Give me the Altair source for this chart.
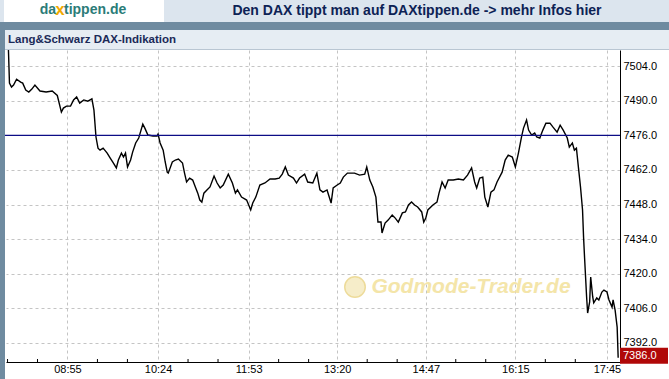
import altair as alt
import pandas as pd

# ---- data ----
times = ["07:57","07:58","08:00","08:02","08:05","08:09","08:11","08:14","08:17","08:20",
         "08:23","08:28","08:34","08:40","08:45","08:49","08:51","08:54","08:58","09:01",
         "09:04","09:07","09:11","09:15","09:19","09:21","09:23","09:25","09:27","09:30",
         "09:34","09:37","09:40","09:43","09:45","09:48","09:50","09:52","09:54","09:57",
         "09:59","10:02","10:05","10:09","10:11","10:14","10:19","10:23","10:24","10:26",
         "10:29","10:31","10:33","10:34","10:38","10:41","10:44","10:48","10:50","10:52",
         "10:55","10:58","11:01","11:03","11:05","11:07","11:09","11:12","11:15","11:19",
         "11:22","11:25","11:28","11:33","11:37","11:40","11:42","11:46","11:51","11:55",
         "11:57","12:00","12:04","12:09","12:14","12:19","12:23","12:26","12:29","12:32",
         "12:37","12:40","12:43","12:48","12:51","12:56","13:00","13:03","13:06","13:10",
         "13:14","13:16","13:20","13:23","13:26","13:30","13:33","13:37","13:42","13:47",
         "13:49","13:52","13:55","13:58","14:00","14:03","14:04","14:07","14:10","14:14",
         "14:17","14:20","14:24","14:27","14:30","14:33","14:36","14:39","14:43","14:45",
         "14:47","14:49","14:54","14:58","15:00","15:03","15:06","15:09","15:14","15:19",
         "15:24","15:28","15:32","15:35","15:37","15:40","15:43","15:45","15:48","15:51",
         "15:54","15:57","16:02","16:05","16:08","16:12","16:15","16:18","16:21","16:23",
         "16:26","16:28","16:31","16:34","16:36","16:39","16:42","16:45","16:49","16:52",
         "16:56","16:59","17:02","17:06","17:08","17:11","17:13","17:15","17:17","17:19",
         "17:21","17:22","17:23","17:25","17:26","17:28","17:29","17:31","17:32","17:35",
         "17:37","17:40","17:42","17:45","17:47","17:50","17:51","17:53","17:55","17:56"]
values = [7510.5,7497.1,7495.5,7496.3,7498.7,7497.5,7497.1,7494.3,7493.5,7494.7,
          7496.3,7493.9,7493.5,7493.9,7492.1,7485.4,7487.0,7487.8,7487.8,7490.3,
          7491.5,7489.0,7490.3,7489.8,7490.7,7486.2,7475.3,7470.8,7470.0,7470.8,
          7468.8,7466.8,7464.8,7462.8,7466.0,7468.8,7467.2,7468.8,7463.2,7466.0,
          7469.2,7472.9,7474.9,7480.5,7478.9,7476.1,7475.7,7475.7,7476.5,7472.9,
          7470.0,7465.2,7461.1,7460.7,7465.2,7466.0,7466.4,7464.8,7460.7,7457.1,
          7458.7,7457.9,7454.7,7452.6,7449.8,7449.0,7452.6,7453.9,7455.1,7459.5,
          7456.7,7454.7,7455.9,7460.3,7456.7,7452.6,7453.9,7451.0,7449.8,7445.8,
          7448.6,7451.0,7455.9,7456.7,7458.3,7458.3,7458.7,7460.3,7463.2,7459.9,
          7458.7,7456.7,7458.7,7460.3,7457.1,7456.7,7460.7,7453.9,7453.0,7453.9,
          7448.6,7454.7,7455.9,7456.7,7459.1,7460.7,7460.7,7460.7,7459.9,7460.3,
          7463.2,7457.9,7455.1,7451.0,7440.9,7440.9,7436.5,7440.5,7441.7,7443.7,
          7442.5,7440.9,7444.6,7445.0,7447.8,7449.0,7447.8,7447.0,7445.0,7440.9,
          7442.5,7445.8,7447.8,7449.0,7452.6,7457.1,7454.7,7457.9,7457.9,7458.3,
          7457.9,7459.9,7462.8,7457.1,7454.7,7458.7,7459.1,7451.0,7447.0,7453.0,
          7453.9,7457.1,7461.1,7466.0,7468.0,7467.2,7463.2,7468.8,7475.3,7478.9,
          7482.2,7478.1,7476.1,7476.9,7475.3,7474.9,7478.1,7480.9,7480.9,7479.3,
          7477.3,7480.1,7478.1,7474.9,7471.2,7472.9,7470.0,7470.8,7462.8,7455.1,
          7445.8,7434.8,7426.5,7410.6,7404.1,7408.6,7418.7,7410.6,7408.2,7410.2,
          7409.4,7412.6,7413.4,7412.6,7409.4,7406.5,7409.4,7405.3,7398.4,7386.0]

x_tick_labels = ["08:55", "10:24", "11:53", "13:20", "14:47", "16:15", "17:45"]
y_ticks = [7392, 7406, 7420, 7434, 7448, 7462, 7476, 7490, 7504]
reference_level = [7476]
last_value = [7386.0]

title_banner = "Den DAX tippt man auf DAXtippen.de -> mehr Infos hier"
header_text = "Lang&Schwarz DAX-Indikation"
watermark = "Godmode-Trader.de"


def to_min(t):
    h, m = t.split(":")
    return int(h) * 60 + int(m)


df = pd.DataFrame({"t": [to_min(t) for t in times], "v": values})
tick_mins = [to_min(t) for t in x_tick_labels]
label_map = {str(to_min(t)): t for t in x_tick_labels}
label_expr = "{" + ",".join(f"'{k}':'{v}'" for k, v in label_map.items()) + "}[datum.value + '']"

# minor ticks: thirds between the major ticks
step = (tick_mins[-1] - tick_mins[0]) / (len(tick_mins) - 1)
minor = [tick_mins[0] - 2 * step / 3, tick_mins[0] - step / 3]
for a in tick_mins[:-1]:
    minor += [a + step / 3, a + 2 * step / 3]
minor_df = pd.DataFrame({"m": minor})

W, H = 614, 312
xs = alt.Scale(domain=[474.6, 1077.8], nice=False, zero=False)
ys = alt.Scale(domain=[7384.3, 7510.5], nice=False, zero=False)

one = pd.DataFrame({"a": [0]})
base1 = alt.Chart(one)
FONT = "Liberation Sans"

def rect(x0, x1, y0, y1, color):
    return base1.mark_rect(color=color).encode(
        x=alt.value(x0), x2=alt.value(x1), y=alt.value(y0), y2=alt.value(y1))

# decorations (banner / header) around the plot, plot origin at (6, 50)
banner_bg = rect(-6, 663, -50, -28, "#dce5ee")
logo_bg = rect(-2, 158, -50, -28, "#ffffff")
dark_strip = rect(-6, 663, -28, -20, "#6f8ba0")
header_bg = rect(-6, 663, -20, -1, "#e6edf3")
header_line = rect(-6, 663, -1, 0, "#b9c6d2")
left_strip = rect(-6, -1, -28, 329, "#6f8ba0")

banner_txt = base1.mark_text(font=FONT, fontWeight="bold", fontSize=14,
                             color="#0d2255", align="center", baseline="middle").encode(
    x=alt.value(411), y=alt.value(-39), text=alt.value(title_banner))
logo_da = base1.mark_text(font=FONT, fontWeight="bold", fontSize=14,
                          color="#2b7c78", align="right", baseline="middle").encode(
    x=alt.value(50), y=alt.value(-40), text=alt.value("da"))
logo_x = base1.mark_text(font=FONT, fontWeight="bold", fontSize=17,
                         color="#f2a900", align="center", baseline="middle").encode(
    x=alt.value(54), y=alt.value(-40), text=alt.value("x"))
logo_rest = base1.mark_text(font=FONT, fontWeight="bold", fontSize=14,
                            color="#2b7c78", align="left", baseline="middle").encode(
    x=alt.value(58), y=alt.value(-40), text=alt.value("tippen.de"))
header_txt = base1.mark_text(font=FONT, fontWeight="bold", fontSize=11.5,
                             color="#1b2a58", align="left", baseline="middle").encode(
    x=alt.value(2), y=alt.value(-10), text=alt.value(header_text))

wm_circle = base1.mark_point(filled=True, shape="circle", size=420, color="#f6ecc4",
                             stroke="#ecd890", strokeWidth=1.5, opacity=0.9).encode(
    x=alt.value(349), y=alt.value(237))
wm_text = base1.mark_text(font=FONT, fontWeight="bold", fontStyle="italic",
                          fontSize=21, color="#f3e3a0", opacity=0.9, align="center",
                          baseline="middle").encode(
    x=alt.value(465), y=alt.value(237), text=alt.value(watermark))

axis_x = alt.Axis(values=tick_mins, labelExpr=label_expr, grid=True, gridDash=[3, 3],
                  gridColor="#c4c4c4", ticks=False, domainColor="#000000", domainWidth=1,
                  labelFont=FONT, labelFontSize=11, labelColor="#000000",
                  labelPadding=1, title=None, labelFlush=False, labelOverlap=False)
axis_y = alt.Axis(values=y_ticks, format=".1f", orient="right", grid=True, gridDash=[3, 3],
                  gridColor="#c4c4c4", ticks=False, domainColor="#000000", domainWidth=1,
                  labelFont=FONT, labelFontSize=11, labelColor="#000000",
                  labelPadding=3, title=None, labelFlush=False, labelOverlap=False,
                  labelBound=False)

line = alt.Chart(df).mark_line(color="#000000", strokeWidth=1.4, clip=True,
                               interpolate="linear").encode(
    x=alt.X("t:Q", scale=xs, axis=axis_x),
    y=alt.Y("v:Q", scale=ys, axis=axis_y))

minor_ticks = alt.Chart(minor_df).mark_rule(color="#000000", strokeWidth=1).encode(
    x=alt.X("m:Q", scale=xs, axis=axis_x), y=alt.value(H - 3), y2=alt.value(H))

ref_df = pd.DataFrame({"r": reference_level})
ref = alt.Chart(ref_df).mark_rule(color="#0c0c86", strokeWidth=1.2).encode(
    y=alt.Y("r:Q", scale=ys, axis=axis_y), x=alt.value(-1), x2=alt.value(W))

last_df = pd.DataFrame({"v": last_value, "label": [f"{v:.1f}" for v in last_value]})
last_box = alt.Chart(last_df).mark_rect(color="#b00808", yOffset=-10, y2Offset=6).encode(
    y=alt.Y("v:Q", scale=ys, axis=axis_y), y2="v:Q", x=alt.value(W), x2=alt.value(W + 48))
last_txt = alt.Chart(last_df).mark_text(font=FONT, fontSize=11, color="#ffffff",
                                        align="left", baseline="middle", dy=-2).encode(
    y=alt.Y("v:Q", scale=ys, axis=axis_y), x=alt.value(W + 3), text="label:N")

chart = alt.layer(
    banner_bg, logo_bg, dark_strip, header_bg, header_line, left_strip,
    banner_txt, logo_da, logo_x, logo_rest, header_txt,
    wm_circle, wm_text, line, minor_ticks, ref, last_box, last_txt
).properties(
    width=W, height=H,
    padding={"left": 6, "top": 50, "right": 49, "bottom": 17},
    autosize=alt.AutoSizeParams(type="none"),
    background="#ffffff"
).configure_view(stroke=None).configure_axis(labelOverlap=False)

chart.save("out.html", embed_options={"renderer": "svg", "actions": False})
